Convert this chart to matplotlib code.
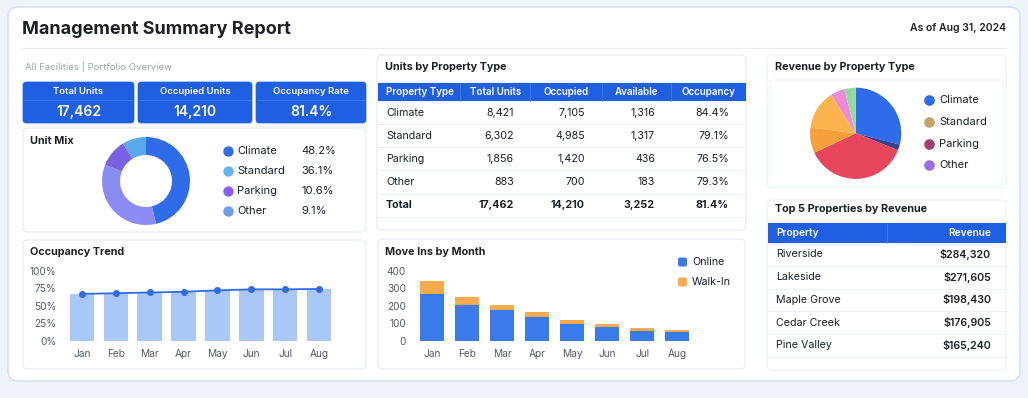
import matplotlib
matplotlib.use('Agg')
import matplotlib.pyplot as plt
from matplotlib.patches import FancyBboxPatch, Rectangle

plt.rcParams['font.family'] = ['Inter', 'DejaVu Sans']

W, H = 1028, 398

# ---- data ----
kpi_labels = ['Total Units', 'Occupied Units', 'Occupancy Rate']
kpi_values = ['17,462', '14,210', '81.4%']

mix_labels = ['Climate', 'Standard', 'Parking', 'Other']
mix_pct = [48.2, 36.1, 10.6, 9.1]

months = ['Jan', 'Feb', 'Mar', 'Apr', 'May', 'Jun', 'Jul', 'Aug']
occ_rate = [67, 68, 69, 70, 72, 73.5, 73.5, 74]

prop_types = ['Climate', 'Standard', 'Parking', 'Other']
total_units = [8421, 6302, 1856, 883]
occupied_units = [7105, 4985, 1420, 700]
available_units = [1316, 1317, 436, 183]
occupancy_pct = [84.4, 79.1, 76.5, 79.3]
total_row = ['Total', '17,462', '14,210', '3,252', '81.4%']

online = [267, 204, 174, 137, 97, 77, 56, 48]
walk_in = [76, 44, 32, 27, 21, 17, 17, 15]
move_series = ['Online', 'Walk-In']

rev_labels = ['Climate', 'Standard', 'Parking', 'Other']
rev_slices = [29, 2, 37, 9, 14, 5, 4]  # shares as drawn in the pie

top_props = ['Riverside', 'Lakeside', 'Maple Grove', 'Cedar Creek', 'Pine Valley']
top_revenue = [284320, 271605, 198430, 176905, 165240]

# ---- colours ----
BLUE = '#1f5fe3'
TXT = '#1c1f26'
GRAY = '#555b66'
mix_colors = ['#2f6cea', '#8a8cf3', '#7b5fe4', '#5ba8ea']
mix_legend_colors = ['#2f6cea', '#63b4f4', '#8b5cf6', '#6a9ff0']
rev_colors = ['#2f6cea', '#34408f', '#e8465c', '#f79f3a', '#fbb34e', '#ee8bd8', '#93dca0']
rev_legend_colors = ['#2e6ee8', '#c4a46c', '#a0406e', '#9d6ce2']
BODY = 7.7

fig = plt.figure(figsize=(W / 100, H / 100), dpi=100)
fig.patch.set_facecolor('#eef3fa')
bg = fig.add_axes([0, 0, 1, 1])
bg.set_xlim(0, W)
bg.set_ylim(H, 0)
bg.axis('off')


def px_axes(x0, y0, x1, y1):
    ax = fig.add_axes([x0 / W, 1 - y1 / H, (x1 - x0) / W, (y1 - y0) / H])
    ax.patch.set_alpha(0)
    return ax


def card(x0, y0, x1, y1, fc='white', ec='#e6eaf0', r=5, lw=0.8):
    bg.add_patch(FancyBboxPatch((x0, y0), x1 - x0, y1 - y0,
                                boxstyle=f'round,pad=0,rounding_size={r}',
                                fc=fc, ec=ec, lw=lw))


def txt(x, y, s, size=BODY, color=TXT, ha='left', weight='normal'):
    bg.text(x, y, s, fontsize=size, color=color, ha=ha, va='center', fontweight=weight)


# main card
card(8, 7, 1020, 381, ec='#d5e2f6', r=10, lw=1.2)
txt(22, 30, 'Management Summary Report', size=13, weight='bold')
txt(1006, 28, 'As of Aug 31, 2024', size=7.5, ha='right', weight='semibold')
bg.plot([22, 1006], [48, 48], color='#e8ebf0', lw=0.8)
txt(25, 67, 'All Facilities | Portfolio Overview', size=6.9, color='#9aa3b4')

# KPI tiles
tiles = [(23, 134), (138, 252), (256, 366)]
for (x0, x1), lab, val in zip(tiles, kpi_labels, kpi_values):
    card(x0, 82, x1, 123, fc=BLUE, ec=BLUE, r=3, lw=0.5)
    bg.plot([x0 + 1, x1 - 1], [100, 100], color='#3f7bec', lw=0.6)
    txt((x0 + x1) / 2, 91.5, lab, size=6.9, color='white', ha='center', weight='semibold')
    txt((x0 + x1) / 2, 112, val, size=10, color='white', ha='center', weight='semibold')

# Unit Mix
card(23, 128, 366, 232)
txt(30, 141, 'Unit Mix', size=7.8, weight='bold')
ax = px_axes(102, 137, 190, 225)
ax.pie(mix_pct, colors=mix_colors, startangle=90, counterclock=False,
       wedgeprops=dict(width=0.41, linewidth=0))
ax.set_xlim(-1, 1)
ax.set_ylim(-1, 1)
for i, (lab, p) in enumerate(zip(mix_labels, mix_pct)):
    y = 151 + i * 20
    bg.scatter([228], [y], s=42, color=mix_legend_colors[i], zorder=3)
    txt(237, y, lab, size=8)
    txt(301, y, f'{p:.1f}%', size=8)

# Occupancy Trend
card(23, 240, 366, 369)
txt(30, 252, 'Occupancy Trend', size=7.8, weight='bold')
ax = px_axes(65, 270.7, 336, 341)
x = range(len(months))
ax.bar(x, occ_rate, width=0.72, color='#a9c8f7', zorder=1)
ax.plot(x, occ_rate, color='#2f6cea', lw=1.3, marker='o', ms=4, zorder=2)
ax.set_ylim(0, 100)
ax.set_xlim(-0.5, len(months) - 0.5)
ax.set_yticks([0, 25, 50, 75, 100])
ax.set_yticklabels([f'{v}%' for v in [0, 25, 50, 75, 100]])
ax.set_xticks(list(x))
ax.set_xticklabels(months)
ax.tick_params(length=0, labelsize=7.3, colors=GRAY, pad=6)
ax.tick_params(axis='y', pad=6)
for s in ax.spines.values():
    s.set_visible(False)

# Units by Property Type table
card(377, 55, 746, 230)
txt(385, 67, 'Units by Property Type', size=7.8, weight='bold')
bg.add_patch(Rectangle((377.5, 82.5), 368.5, 18.5, fc=BLUE, ec='none'))
col_edges = [460, 530, 602, 671]
for cx in col_edges:
    bg.plot([cx, cx], [82.5, 101], color='#4d82ea', lw=0.5)
heads = ['Property Type', 'Total Units', 'Occupied', 'Available', 'Occupancy']
head_x = [420, 496, 566, 637, 708]
for h, hx in zip(heads, head_x):
    txt(hx, 92, h, size=7.1, color='white', ha='center', weight='semibold')
right_x = [514, 585, 655, 729]
rows = [[p, f'{a:,}', f'{b:,}', f'{c:,}', f'{d:.1f}%'] for p, a, b, c, d in
        zip(prop_types, total_units, occupied_units, available_units, occupancy_pct)]
rows.append(total_row)
for i, r in enumerate(rows):
    y = 112.7 + i * 23.1
    w = 'bold' if i == len(rows) - 1 else 'normal'
    txt(386, y, r[0], weight=w)
    for v, rx in zip(r[1:], right_x):
        txt(rx, y, v, ha='right', weight=w)
    bg.plot([378, 745], [y + 11.5, y + 11.5], color='#eceff3', lw=0.7)

# Move Ins by Month
card(378, 239, 745, 369)
txt(385, 252, 'Move Ins by Month', size=7.8, weight='bold')
ax = px_axes(414.5, 270.7, 694.5, 340.7)
ax.bar(x, online, width=0.69, color='#3a7bec', label=move_series[0])
ax.bar(x, walk_in, width=0.69, bottom=online, color='#f9aa4c', label=move_series[1])
ax.set_ylim(0, 400)
ax.set_xlim(-0.5, len(months) - 0.5)
ax.set_yticks([0, 100, 200, 300, 400])
ax.set_xticks(list(x))
ax.set_xticklabels(months)
ax.tick_params(length=0, labelsize=7.3, colors=GRAY, pad=6)
ax.tick_params(axis='y', pad=6)
for s in ax.spines.values():
    s.set_visible(False)
for i, (lab, c) in enumerate(zip(move_series, ['#3a7bec', '#f9aa4c'])):
    y = 262 + i * 20
    bg.add_patch(FancyBboxPatch((678, y - 4.5), 9, 9, boxstyle='round,pad=0,rounding_size=2',
                                fc=c, ec='none'))
    txt(692, y, lab)

# Revenue by Property Type
card(767, 55, 1006, 188, ec='#eef0f4')
txt(775, 67, 'Revenue by Property Type', size=7.8, weight='bold')
card(770, 80, 1003, 186, ec='#f0f2f5', r=4, lw=0.6)
ax = px_axes(810, 87.7, 901.3, 178.9)
ax.pie(rev_slices, colors=rev_colors, startangle=90, counterclock=False,
       wedgeprops=dict(linewidth=0))
ax.set_xlim(-1, 1)
ax.set_ylim(-1, 1)
for i, (lab, c) in enumerate(zip(rev_labels, rev_legend_colors)):
    y = 100 + i * 21.8
    bg.scatter([929], [y], s=44, color=c, zorder=3)
    txt(939, y, lab, size=8)

# Top 5 Properties by Revenue
card(767, 200, 1006, 370, ec='#eef0f4')
txt(775, 209, 'Top 5 Properties by Revenue', size=7.8, weight='bold')
bg.add_patch(Rectangle((768, 223.3), 238, 19.3, fc=BLUE, ec='none'))
bg.plot([887, 887], [223.3, 242.6], color='#4d82ea', lw=0.5)
txt(776, 233, 'Property', size=7.3, color='white', weight='semibold')
txt(991, 233, 'Revenue', size=7.3, color='white', ha='right', weight='semibold')
for i, (p, v) in enumerate(zip(top_props, top_revenue)):
    y = 254.3 + i * 22.8
    txt(776, y, p)
    txt(991, y, f'${v:,}', ha='right', weight='semibold')
    bg.plot([768, 1006], [y + 11.4, y + 11.4], color='#eceff3', lw=0.7)

fig.savefig('out.png', dpi=100, facecolor=fig.get_facecolor())
